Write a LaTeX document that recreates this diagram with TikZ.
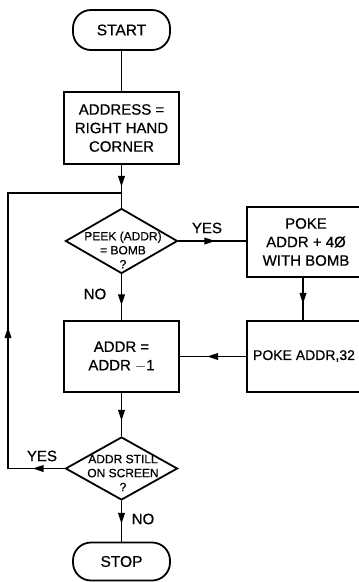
\documentclass[tikz,border=0pt]{standalone}
\usepackage{fontspec}
\setmainfont{Liberation Sans}[FakeBold=0.6]
\usetikzlibrary{shapes.geometric,decorations.markings,arrows.meta}
\begin{document}
\begin{tikzpicture}[x=1pt,y=-1pt,line width=1.8pt,
  box/.style={draw,rectangle,inner sep=0pt,align=center,font=\fontsize{15}{18.5}\selectfont},
  term/.style={draw,rectangle,rounded corners=18pt,inner sep=0pt,font=\fontsize{15.5}{18}\selectfont},
  dia/.style={draw,diamond,inner sep=0pt},
  dtext/.style={align=center,inner sep=0pt,font=\fontsize{12}{14}\selectfont},
  lbl/.style={inner sep=0pt,font=\fontsize{15}{15}\selectfont},
  midarr/.style={postaction={decorate},decoration={markings,
     mark=at position #1 with {\arrow{Triangle[length=11pt,width=6.5pt]}}}}
]
\useasboundingbox (0,0) rectangle (359,582);
\clip (0,0) rectangle (359,582);
% nodes
\node[term,minimum width=97pt,minimum height=40pt] (start) at (121.5,30) {START};
\node[box,minimum width=115pt,minimum height=72pt] (addr0) at (121.5,128) {ADDRESS =\\RIGHT HAND\\CORNER};
\node[dia,minimum width=112pt,minimum height=65pt] (d1) at (121.5,241) {};
\node[dtext] (d1t) at (123,250) {PEEK (ADDR)\\= BOMB\\?};
\node[box,minimum width=118pt,minimum height=70pt] (poke1) at (306,242) {POKE\\ADDR + 4Ø\\WITH BOMB};
\node[box,minimum width=118pt,minimum height=71pt] (poke2) at (306,356.5) {};
\node[inner sep=0pt,font=\fontsize{14}{14}\selectfont] (poke2t) at (304,356) {POKE ADDR,32};
\node[box,minimum width=115pt,minimum height=71pt] (addr1) at (121.5,356.5) {ADDR =\\ADDR $-$1};
\node[dia,minimum width=112pt,minimum height=63pt] (d2) at (121.5,468.5) {};
\node[dtext] (d2t) at (123,473) {ADDR STILL\\ON SCREEN\\?};
\node[term,minimum width=97pt,minimum height=38pt] (stop) at (121.5,561.5) {STOP};
\coordinate (j) at (121.5,193);
\coordinate (lc) at (8,468.5);
% labels
\node[lbl] (yes1) at (207,228) {YES};
\node[lbl] (no1) at (95,294) {NO};
\node[lbl] (yes2) at (42,456) {YES};
\node[lbl] (no2) at (143,519) {NO};
% connectors
\draw (start) -- (addr0);
\draw[midarr=22pt] (addr0.south) -- (d1.north);
\draw[midarr=37pt] (d1.east) -- (d1.east -| poke1.west);
\draw[midarr=31pt] (d1.south) -- (addr1.north);
\draw[midarr=26pt] (poke1.south -| 303,0) -- (poke2.north -| 303,0);
\draw[midarr=39pt] (poke2.west) -- (addr1.east);
\draw[midarr=28pt] (addr1.south) -- (d2.north);
\draw[midarr=23pt] (d2.south) -- (stop.north);
\draw[postaction={decorate},decoration={markings,
   mark=at position 32pt with {\arrow{Triangle[length=11pt,width=6.5pt]}},
   mark=at position 198pt with {\arrow{Triangle[length=11pt,width=6.5pt]}}}]
   (d2.west) -- (lc) |- (j);
\end{tikzpicture}
\end{document}
